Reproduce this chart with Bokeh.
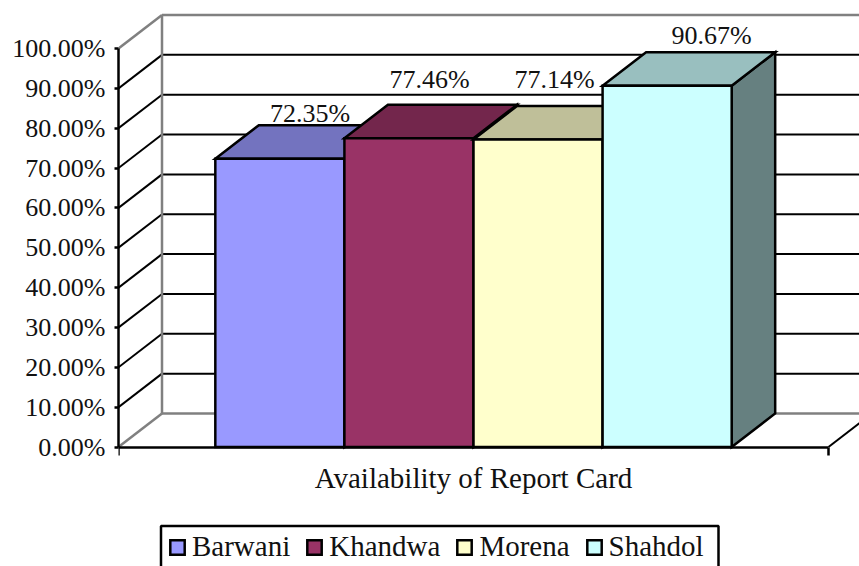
from bokeh.plotting import figure
from bokeh.models import Range1d, FixedTicker, Legend, LegendItem, LinearAxis, BoxAnnotation
from bokeh.embed import file_html
from bokeh.resources import INLINE
from bokeh.core.properties import value

# ---- data ----
districts = ["Barwani", "Khandwa", "Morena", "Shahdol"]
availability = [72.35, 77.46, 77.14, 90.67]
value_labels = ["72.35%", "77.46%", "77.14%", "90.67%"]
category_label = "Availability of Report Card"
y_ticks = [0, 10, 20, 30, 40, 50, 60, 70, 80, 90, 100]
y_tick_labels = ["0.00%", "10.00%", "20.00%", "30.00%", "40.00%", "50.00%",
                 "60.00%", "70.00%", "80.00%", "90.00%", "100.00%"]

# ---- styles ----
front_colors = ["#9999FF", "#993366", "#FFFFCC", "#CCFFFF"]
top_colors = ["#7373BF", "#73264C", "#BFBF99", "#99BFBF"]
side_colors = ["#4D4D80", "#4D1A33", "#808066", "#668080"]
label_dx = [0.235, 0.16, 0.129, 0.345]
label_dy = [11.25, 14.75, 15.0, 12.5]
FONT = "Liberation Serif"
DX, DY = 0.337, 8.41          # depth of the 3-D box in data units
GAP = 0.75                    # gap left of the first bar, in bar widths
X_MAX = GAP * 2 + len(districts)
GRID = "#000000"
WALL = "#808080"
LW = 2
BAR_LW = 2.5

W, H = 859, 566
L = 118
ZERO_PX = 446.5
px_per_bar = 129.09
px_per_pct = 3.985

p = figure(width=W, height=H, output_backend="svg", toolbar_location=None,
           x_axis_location=None, y_axis_location=None,
           x_range=Range1d(0, (W - L) / px_per_bar),
           y_range=Range1d(-(H - ZERO_PX) / px_per_pct, ZERO_PX / px_per_pct),
           min_border_left=L, min_border_right=0, min_border_top=0, min_border_bottom=0,
           background_fill_color="white", border_fill_color="white")
p.outline_line_color = None
p.grid.visible = False

# walls and grid
inner = [t for t in y_ticks if 0 < t < 100]
p.multi_line([[DX, X_MAX + DX] for _ in inner], [[t + DY, t + DY] for t in inner],
             line_color=GRID, line_width=LW)
p.multi_line([[0, DX] for _ in inner], [[t, t + DY] for t in inner],
             line_color=GRID, line_width=LW)
p.multi_line([[DX, X_MAX + DX], [DX, X_MAX + DX], [0, DX], [0, DX], [DX, DX]],
             [[DY, DY], [100 + DY, 100 + DY], [0, DY], [100, 100 + DY], [DY, 100 + DY]],
             line_color=WALL, line_width=2.5)
p.line([X_MAX, X_MAX + DX], [0, DY], line_color=GRID, line_width=LW)

# bars
items = []
for i, (name, v) in enumerate(zip(districts, availability)):
    x0 = GAP + i
    x1 = x0 + 1
    p.patch([x1, x1 + DX, x1 + DX, x1], [0, DY, v + DY, v],
            fill_color=side_colors[i], line_color="black", line_width=BAR_LW, line_join="miter")
    p.patch([x0, x0 + DX, x1 + DX, x1], [v, v + DY, v + DY, v],
            fill_color=top_colors[i], line_color="black", line_width=BAR_LW, line_join="miter")
    r = p.vbar(x=[x0 + 0.5], width=1, bottom=0, top=[v],
               fill_color=front_colors[i], line_color="black", line_width=BAR_LW, line_join="miter")
    items.append(LegendItem(label=name, renderers=[r]))

# value labels
p.text([GAP + i + 0.5 + label_dx[i] for i in range(4)],
       [availability[i] + label_dy[i] for i in range(4)],
       text=value_labels, text_font=value(FONT), text_font_size="26px",
       text_align="center", text_baseline="alphabetic", text_color="#111111")

# axes
yax = LinearAxis(ticker=FixedTicker(ticks=y_ticks), bounds=(0, 100),
                 major_label_overrides=dict(zip(y_ticks, y_tick_labels)))
yax.major_tick_in = 0
yax.major_tick_out = 4
yax.minor_tick_out = 0
yax.minor_tick_in = 0
yax.major_label_standoff = 9
yax.axis_line_width = BAR_LW
yax.major_tick_line_width = BAR_LW
yax.major_label_text_font = FONT
yax.major_label_text_font_size = "26px"
yax.major_label_text_color = "#111111"
p.add_layout(yax, "left")

mid = X_MAX / 2
xax = LinearAxis(ticker=FixedTicker(ticks=[mid], minor_ticks=[0, X_MAX]), bounds=(0, X_MAX),
                 fixed_location=0,
                 major_label_overrides={mid: category_label})
xax.major_tick_in = 0
xax.major_tick_out = 0
xax.minor_tick_in = 0
xax.minor_tick_out = 8
xax.minor_tick_line_width = BAR_LW
xax.minor_tick_line_color = "black"
xax.major_label_standoff = 7
xax.axis_line_width = BAR_LW
xax.major_label_text_font = FONT
xax.major_label_text_font_size = "29px"
xax.major_label_text_color = "#111111"
p.add_layout(xax, "below")

# legend: entries plus a separate frame that runs off the bottom of the picture
leg = Legend(items=items, orientation="horizontal", location=(44, -3),
             glyph_width=18, glyph_height=18, label_standoff=6, spacing=15,
             padding=6, margin=0, border_line_alpha=0,
             label_text_font=FONT, label_text_font_size="29px", label_text_color="#111111",
             background_fill_alpha=0)
p.add_layout(leg, "center")
p.add_layout(BoxAnnotation(left=42.5, right=600, top=40.5, bottom=-15,
                           left_units="screen", right_units="screen",
                           top_units="screen", bottom_units="screen",
                           fill_alpha=0, line_color="black", line_alpha=1,
                           line_width=BAR_LW, line_dash="solid"))

open("out.html", "w").write(file_html(p, INLINE))
